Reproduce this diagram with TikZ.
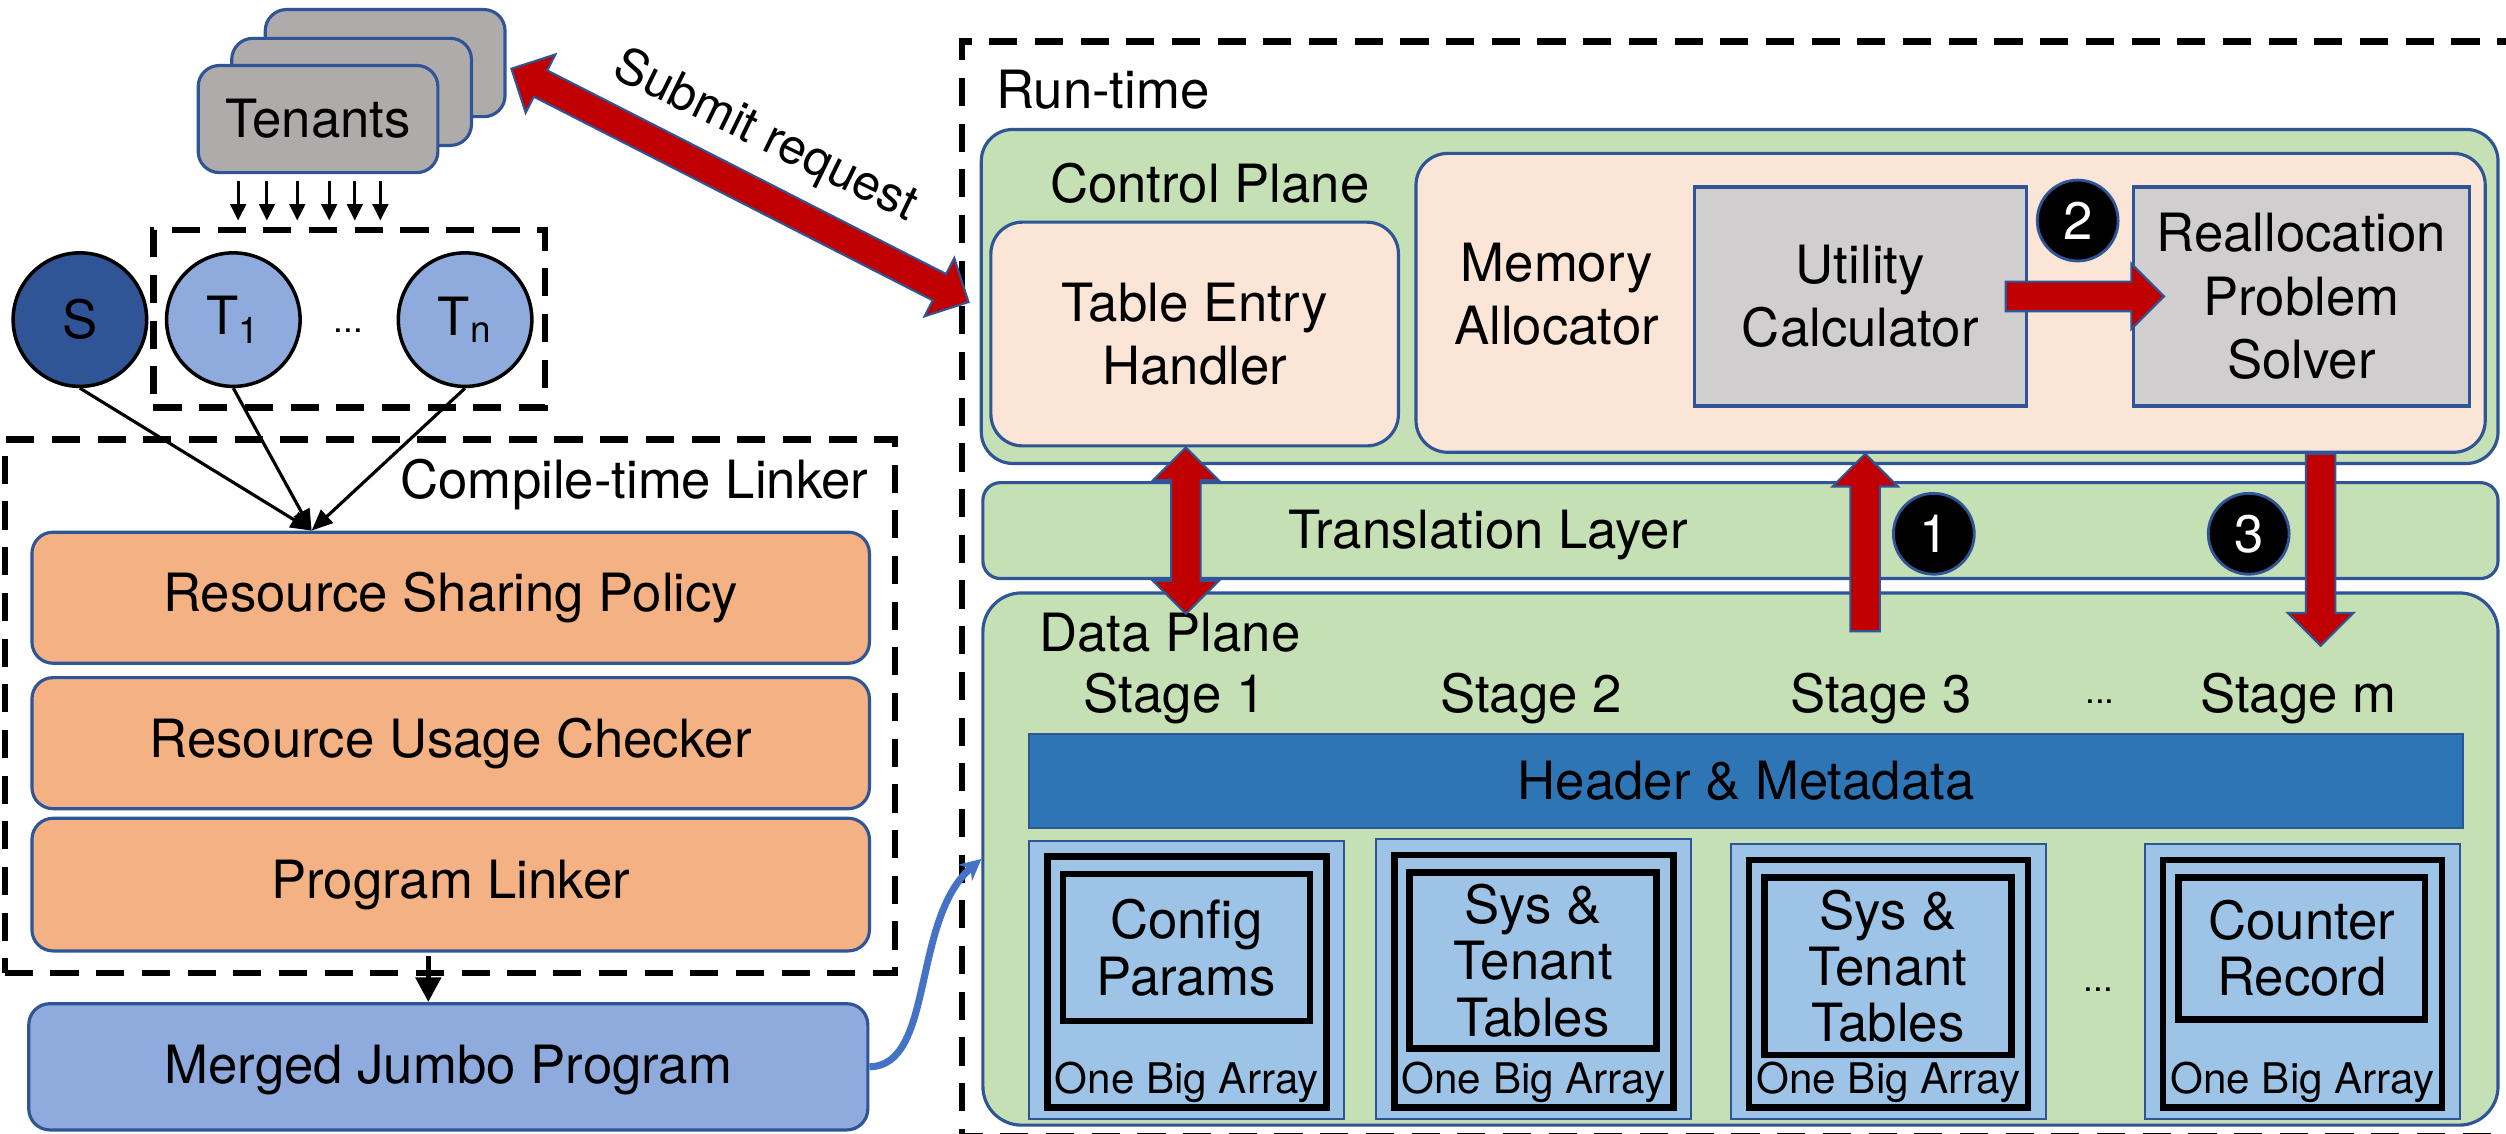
\documentclass[tikz,border=0pt]{standalone}
\usepackage{fontspec}
\setmainfont{TeX Gyre Heros}
\usetikzlibrary{arrows.meta, calc, fit}

\definecolor{edgeblue}{HTML}{2F5597}
\definecolor{tenantgray}{HTML}{AFABAB}
\definecolor{sblue}{HTML}{2F5597}
\definecolor{tblue}{HTML}{8FAADC}
\definecolor{linkorange}{HTML}{F4B183}
\definecolor{planegreen}{HTML}{C5E0B4}
\definecolor{peach}{HTML}{FBE5D6}
\definecolor{boxgray}{HTML}{D0CECE}
\definecolor{headerblue}{HTML}{2E75B6}
\definecolor{stageblue}{HTML}{9DC3E6}
\definecolor{arrowred}{HTML}{C00000}
\definecolor{curveblue}{HTML}{4472C4}

\newcommand{\fatarrow}[2]{%
  \coordinate (fa-h) at ($(#2)!9.3pt!(#1)$);
  \filldraw[fatred] ($(#1)!4.2pt!90:(#2)$) -- ($(fa-h)!4.2pt!90:(#2)$) -- ($(fa-h)!9.3pt!90:(#2)$) -- (#2)
    -- ($(fa-h)!9.3pt!-90:(#2)$) -- ($(fa-h)!4.2pt!-90:(#2)$) -- ($(#1)!4.2pt!-90:(#2)$) -- cycle;}
\newcommand{\fatdarrow}[2]{%
  \coordinate (fa-a) at ($(#1)!9.3pt!(#2)$);
  \coordinate (fa-b) at ($(#2)!9.3pt!(#1)$);
  \filldraw[fatred] (#1) -- ($(fa-a)!9.3pt!90:(#2)$) -- ($(fa-a)!4.2pt!90:(#2)$) -- ($(fa-b)!4.2pt!90:(#2)$)
    -- ($(fa-b)!9.3pt!90:(#2)$) -- (#2) -- ($(fa-b)!9.3pt!-90:(#2)$) -- ($(fa-b)!4.2pt!-90:(#2)$)
    -- ($(fa-a)!4.2pt!-90:(#2)$) -- ($(fa-a)!9.3pt!-90:(#2)$) -- cycle;}

\begin{document}
\begin{tikzpicture}[x=0.1598mm, y=-0.1598mm,
  every node/.style={font=\fontsize{15}{18}\selectfont, inner sep=0pt, align=center},
  edged/.style={draw=edgeblue, line width=0.9pt},
  tenant/.style={edged, fill=tenantgray, rounded corners=6pt},
  party/.style={circle, draw=black, line width=1pt, minimum size=38pt},
  dashbox/.style={draw=black, line width=1.8pt, dash pattern=on 8pt off 5pt},
  linkstage/.style={edged, fill=linkorange, rounded corners=6pt},
  plane/.style={edged, fill=planegreen, rounded corners=9pt},
  softbox/.style={edged, fill=peach, rounded corners=9pt},
  calcbox/.style={edged, fill=boxgray},
  stagecell/.style={draw=edgeblue, line width=0.6pt, fill=stageblue},
  arrayframe/.style={draw=black, line width=1.8pt},
  stepdot/.style={circle, fill=black, draw=edgeblue, line width=0.8pt, text=white, minimum size=23pt},
  fatred/.style={fill=arrowred, draw=edgeblue, line width=0.6pt},
  feed/.style={line width=0.9pt, -{Triangle[length=4.7pt, width=4.4pt]}},
  smalldots/.style={font=\fontsize{10}{12}\selectfont}]

\path[use as bounding box, fill=white] (0,0) rectangle (1568,709);

\draw[dashbox] (1580,26) -| (602,711) -- (1580,711);
\node (rttext) at (690,56) {Run-time};

% tenants and programs
\node[tenant, fit={(166,6) (316,73)}] (tenC) {};
\node[tenant, fit={(145,24) (295,91)}] (tenB) {};
\node[tenant, fit={(124,41) (274,108)}] (tenA) {};
\node (tentext) at (tenA) {Tenants};

\node[dashbox, fit={(96,144) (341,255)}] (tgrp) {};
\node[party, fill=sblue] (s) at (50,200) {S};
\node[party, fill=tblue] (t1) at (146,200) {T\textsubscript{1}};
\node[smalldots] (tdots) at (218,207) {...};
\node[party, fill=tblue] (tn) at (291,200) {T\textsubscript{n}};
\foreach \x in {149,167,186,206,222,238}
  \draw[feed, shorten <=2pt, shorten >=1.8pt] (tenA.south -| \x,0) -- (tgrp.north -| \x,0);

\node[dashbox, fit={(3,275) (560,609)}] (ctl) {};
\node (ctltext) at (397,303) {Compile-time Linker};
\node[linkstage, fit={(20,333) (544,415)}] (rsp) {};
\node (rsptext) at (rsp) {Resource Sharing Policy};
\node[linkstage, fit={(20,424) (544,506)}] (ruc) {};
\node (ructext) at (ruc) {Resource Usage Checker};
\node[linkstage, fit={(20,512) (544,595)}] (pl) {};
\node (pltext) at (pl) {Program Linker};

\coordinate (join) at (rsp.north -| 195,0);
\foreach \p in {s,t1,tn}
  \draw[line width=0.9pt, -{Triangle[length=6pt, width=5pt]}] (\p.south) -- (join);

\node[edged, fill=tblue, rounded corners=6pt, fit={(18,628) (543,707)}] (mjp) {};
\node (mjptext) at ([yshift=-1pt]mjp) {Merged Jumbo Program};
\draw[line width=1.6pt, -{Triangle[length=7pt, width=7pt]}, shorten <=1pt] (pl.south -| 268,0) -- (mjp.north -| 268,0);

% run-time side
\node[plane, fit={(614,81) (1563,290)}] (cp) {};
\node (cptext) at (757,115) {Control Plane};
\node[softbox, fit={(620,139) (875,279)}] (teh) {};
\node (tehtext) at (teh) {Table Entry\\Handler};
\node[softbox, fit={(886,96) (1555,283)}] (ma) {};
\node (matext) at (974,184) {Memory\\Allocator};
\node[calcbox, fit={(1060,117) (1268,254)}] (uc) {};
\node (uctext) at (uc) {Utility\\Calculator};
\node[calcbox, fit={(1335,117) (1545,254)}] (rps) {};
\node (rpstext) at (rps) {Reallocation\\Problem\\Solver};
\node[stepdot] (n2) at (1300,138) {2};

\node[plane, rounded corners=5pt, fit={(615,302) (1563,362)}] (tl) {};
\node (tltext) at (931,335) {Translation Layer};
\node[stepdot] (n1) at (1210,334) {1};
\node[stepdot] (n3) at (1407,334) {3};

\node[plane, rounded corners=11pt, fit={(615,371) (1563,704)}] (dp) {};
\node (dptext) at (732,396) {Data Plane};
\foreach \x/\s [count=\i] in {735/Stage 1, 958/Stage 2, 1177/Stage 3, 1438/Stage m}
  \node (stage\i) at (\x,437) {\s};
\node[smalldots] (sdots) at (1314,439) {...};
\node[fill=headerblue, draw=edgeblue, line width=0.6pt, fit={(644,459) (1541,518)}] (hdr) {};
\node (hdrtext) at (hdr) {Header \& Metadata};

\foreach \L/\T/\B/\txt [count=\i] in {644/526/639/{Config\\Params}, 861/525/656/{Sys \&\\Tenant\\Tables},
    1083/528/660/{Sys \&\\Tenant\\Tables}, 1342/528/638/{Counter\\Record}} {
  \node[stagecell, fit={(\L,\T) (\L+197,700)}] (cell\i) {};
  \node[arrayframe, fit={(\L+11.5,\T+10) (\L+186,693)}] (frame\i) {};
  \node[arrayframe, fit={(\L+21,\T+21) (\L+175.5,\B)}] (data\i) {};
  \node[font=\fontsize{15}{16}\selectfont] (text\i) at (data\i) {\txt};
  \node[font=\fontsize{12}{14}\selectfont] (oba\i) at (\L+98.5,677) {One Big Array};
}
\node[smalldots] (cdots) at (1313,619) {...};

\draw[curveblue, line width=2pt, -{Stealth[length=6pt, width=6pt]}] (mjp.east) .. controls (585,667) and (570,575) .. (dp.west);

% red arrows
\coordinate (a1s) at (1167,395);
\coordinate (a1e) at (ma.south -| 1167,0);
\fatarrow{a1s}{a1e}
\coordinate (a2s) at ($(uc.east)+(-14,0)$);
\coordinate (a2e) at ($(rps.west)+(20,0)$);
\fatarrow{a2s}{a2e}
\coordinate (a3s) at (ma.south -| 1452,0);
\coordinate (a3e) at (1452,404);
\fatarrow{a3s}{a3e}
\coordinate (ta) at (teh.south -| 742,0);
\coordinate (tb) at (742,384);
\fatdarrow{ta}{tb}

\coordinate (sub1) at ($(tenC.east)+(3,3.5)$);
\coordinate (sub2) at ($(cp.west)+(-7,3.5)$);
\fatdarrow{sub1}{sub2}
\coordinate (submid) at ($(sub1)!0.5!(sub2)$);
\node[font=\fontsize{14}{16}\selectfont, rotate=-26] (subtext) at ($(submid)!15.5pt!90:(sub2)$) {Submit request};
\end{tikzpicture}
\end{document}
